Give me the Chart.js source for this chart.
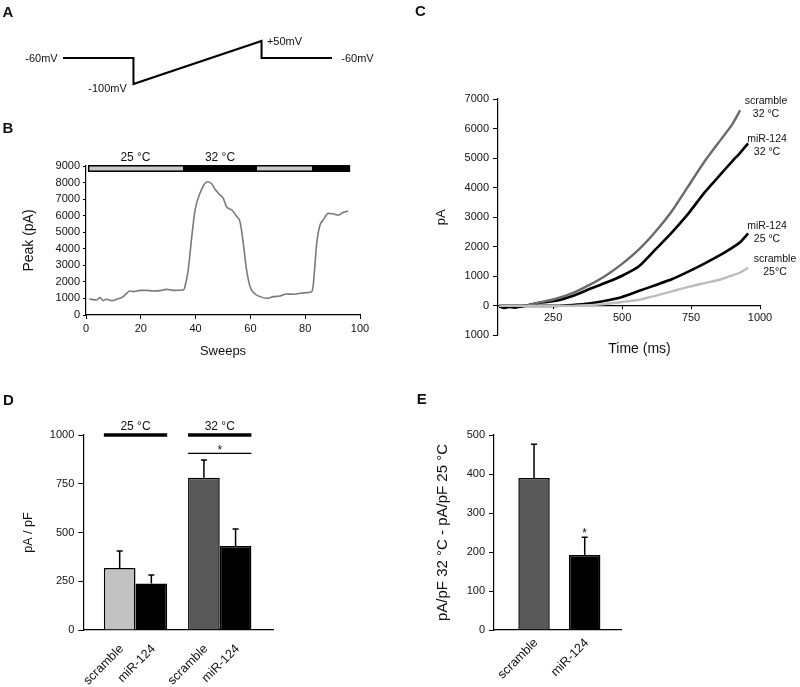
<!DOCTYPE html>
<html><head><meta charset="utf-8"><title>Figure</title>
<script src="https://cdn.jsdelivr.net/npm/chart.js@4/dist/chart.umd.min.js"></script>
<style>
html,body{margin:0;padding:0;background:#fff;}
body{position:relative;width:800px;height:687px;overflow:hidden;font-family:Arial,"Liberation Sans",Helvetica,sans-serif;color:#111;}
canvas{position:absolute;}
.t{position:absolute;white-space:nowrap;line-height:1;transform:translate(-50%,-50%);text-align:center;color:#111;}
</style></head><body>
<canvas id="cA" width="400" height="110" style="left:0px;top:0px"></canvas>
<canvas id="cB" width="400" height="223" style="left:0px;top:140px"></canvas>
<canvas id="cC" width="370" height="266" style="left:430px;top:80px"></canvas>
<canvas id="cD" width="400" height="287" style="left:0px;top:400px"></canvas>
<canvas id="cE" width="400" height="287" style="left:400px;top:400px"></canvas>
<script>
// ================= DATA =================
// A: voltage-ramp protocol
const protoTimeMs = [0, 550, 550, 1550, 1550, 2100];
const protoMv     = [-60, -60, -100, 50, -60, -60];

// B: peak current per sweep
const sweepNo = [1.2, 3.9, 5.1, 6.3, 7.5, 9.4, 11.2, 13.6, 14.8, 16, 17.3, 19.7, 22.1, 24.6, 27, 29.4, 31.9, 35.5,
  36.1, 37.3, 38.6, 39.8, 41.6, 43.4, 44.6, 45.9, 47.1, 48.9, 50.1, 51.3, 53.2, 54.9, 56.2, 57.4, 58.6, 59.9,
  61.7, 63.5, 65.9, 68.4, 70.8, 73.2, 75.7, 78.1, 80.5, 82.4, 83, 84.2, 85.4, 86.6, 88.4, 90.3, 92.1, 93.9, 95.7];
const peakPa = [970, 910, 1050, 870, 950, 870, 950, 1110, 1310, 1450, 1410, 1490, 1490, 1450, 1470, 1550, 1490, 1510,
  1710, 2720, 4730, 6340, 7350, 7950, 8050, 7910, 7590, 7250, 7050, 6540, 6340, 5980, 5640, 4330, 2720, 1710,
  1270, 1110, 1010, 1110, 1150, 1270, 1250, 1310, 1350, 1410, 1910, 4330, 5430, 5740, 6140, 6100, 6040, 6200, 6280];
const tempSegStart = [0.7, 35.4, 62.4, 82.5];
const tempSegEnd   = [35.4, 62.4, 82.5, 96.4];
const tempSegC     = [25, 32, 25, 32];
const bXTicks = [0, 20, 40, 60, 80, 100];
const bYTicks = [0, 1000, 2000, 3000, 4000, 5000, 6000, 7000, 8000, 9000];

// C: ramp currents
const rampTimeMs = [55, 70, 90, 110, 130, 150, 190, 260, 320, 380, 440, 500, 560, 620, 680, 740, 800, 860, 900, 928, 957];
const scr32Pa = [0, 0, 0, 0, 0, 0, 90, 240, 430, 700, 1020, 1420, 1900, 2500, 3200, 4050, 4900, 5650, 6150, 6620, null];
const mir32Pa = [-20, -70, -40, -60, -30, 0, 90, 170, 330, 560, 780, 1020, 1330, 1900, 2480, 3120, 3850, 4480, 4900, 5180, 5500];
const mir25Pa = [0, 0, 0, 0, 0, 0, 0, 0, 30, 80, 170, 300, 500, 700, 900, 1160, 1440, 1740, 1970, 2150, 2450];
const scr25Pa = [0, 0, 0, 0, 0, 0, 0, 0, 0, 20, 60, 130, 200, 340, 490, 640, 770, 900, 1030, 1130, 1290];
const cXTicks = [250, 500, 750, 1000];
const cYTicks = [-1000, 0, 1000, 2000, 3000, 4000, 5000, 6000, 7000];

// D: current density
const dGroups = ['25 °C', '32 °C'];
const dScramble = [318, 781];
const dScrambleSem = [87, 91];
const dMir = [239, 431];
const dMirSem = [43, 87];
const dSignificant = [false, true];
const dYTicks = [0, 250, 500, 750, 1000];

// E: temperature-induced increase
const eLabels = ['scramble', 'miR-124'];
const eDelta = [390, 192];
const eSem = [86, 46];
const eSignificant = [false, true];
const eYTicks = [0, 100, 200, 300, 400, 500];

// ================= HELPERS =================
const FONT = 'Arial, "Liberation Sans", Helvetica, sans-serif';
Chart.defaults.font.family = FONT;
Chart.defaults.color = '#111';

function txt(html, x, y, size, opts = {}) {
  const d = document.createElement('div');
  d.className = 't';
  d.innerHTML = html;
  d.style.left = x + 'px';
  d.style.top = y + 'px';
  d.style.fontSize = size + 'px';
  if (opts.bold) d.style.fontWeight = 'bold';
  if (opts.lh) d.style.lineHeight = opts.lh + 'px';
  document.body.appendChild(d);
}
const tickList = arr => s => { s.ticks = arr.map(v => ({ value: v })); };
const plainNum = v => String(v);
function yAxis(min, max, ticks, width, tickLen, pad, title, titleSize, cb) {
  return {
    type: 'linear', position: 'left', min, max,
    afterBuildTicks: tickList(ticks),
    afterFit: s => { s.width = width; },
    border: { display: true, color: '#000', width: 1.2 },
    grid: { display: true, drawOnChartArea: false, drawTicks: true, tickLength: tickLen, color: '#000', lineWidth: 1 },
    ticks: { font: { size: 11 }, color: '#111', padding: pad, callback: cb || plainNum },
    title: { display: !!title, text: title, font: { size: titleSize }, color: '#111' }
  };
}
const baseOpts = {
  responsive: false, animation: false, devicePixelRatio: 1,
  plugins: { legend: { display: false }, tooltip: { enabled: false } }
};

// ================= PANEL A =================
// schematic drawing compresses the depolarised part of the ramp, as in the figure
const schematicLevel = mv => (mv >= -60 ? -60 + (mv + 60) * 0.238 : mv);
new Chart(document.getElementById('cA'), {
  type: 'line',
  data: { datasets: [{ data: protoTimeMs.map((t, i) => ({ x: t, y: schematicLevel(protoMv[i]) })),
    borderColor: '#000', borderWidth: 2, pointRadius: 0, tension: 0, clip: false }] },
  options: Object.assign({}, baseOpts, {
    layout: { padding: { left: 63, right: 68, top: 32, bottom: 19.5 } },
    scales: {
      x: { type: 'linear', display: false, min: 0, max: 2100 },
      y: { type: 'linear', display: false, min: -110, max: -20 }
    }
  })
});
txt('-60mV', 41.5, 57.5, 11);
txt('-100mV', 107.5, 88, 11);
txt('+50mV', 284.5, 41, 11);
txt('-60mV', 357.5, 58, 11);

// ================= PANEL B =================
const tempBarTop = 9060, tempBarBottom = 8640;
const tempBar = {
  id: 'tempBar',
  afterDraw(chart) {
    const { ctx } = chart; const x = chart.scales.x, y = chart.scales.y;
    const yT = y.getPixelForValue(tempBarTop), yB = y.getPixelForValue(tempBarBottom);
    const x0 = x.getPixelForValue(tempSegStart[0]);
    const x1 = x.getPixelForValue(tempSegEnd[tempSegEnd.length - 1]);
    ctx.save();
    ctx.fillStyle = '#000';
    ctx.fillRect(x0, yT, x1 - x0, yB - yT);
    tempSegC.forEach((t, i) => {
      if (t !== 25) return;
      const a = x.getPixelForValue(tempSegStart[i]) + (i === 0 ? 1.5 : 0);
      const b = x.getPixelForValue(tempSegEnd[i]);
      ctx.fillStyle = '#c8c8c8';
      ctx.fillRect(a, yT + 1.5, b - a, yB - yT - 3);
    });
    ctx.fillStyle = '#111'; ctx.font = '12px ' + FONT; ctx.textAlign = 'center'; ctx.textBaseline = 'middle';
    [0, 1].forEach(i => {
      const mid = (x.getPixelForValue(tempSegStart[i]) + x.getPixelForValue(tempSegEnd[i])) / 2;
      ctx.fillText(tempSegC[i] + ' °C', mid, yT - 7);
    });
    ctx.restore();
  }
};
new Chart(document.getElementById('cB'), {
  type: 'line',
  data: { datasets: [{ data: sweepNo.map((s, i) => ({ x: s, y: peakPa[i] })),
    borderColor: '#7a7a7a', borderWidth: 1.6, pointRadius: 0, cubicInterpolationMode: 'monotone' }] },
  options: Object.assign({}, baseOpts, {
    layout: { padding: { left: 16.6, right: 40, top: 26, bottom: 0 } },
    scales: {
      x: {
        type: 'linear', position: 'bottom', min: 0, max: 100,
        afterBuildTicks: tickList(bXTicks),
        afterFit: s => { s.height = 48; },
        border: { display: true, color: '#000', width: 1.2 },
        grid: { display: true, drawOnChartArea: false, drawTicks: true, tickLength: 4, color: '#000' },
        ticks: { font: { size: 11 }, color: '#111', padding: 3, maxRotation: 0, callback: plainNum },
        title: { display: true, text: 'Sweeps', font: { size: 13 }, color: '#111' }
      },
      y: yAxis(0, 9000, bYTicks, 69.4, 3, 3, 'Peak (pA)', 14)
    }
  }),
  plugins: [tempBar]
});

// ================= PANEL C =================
const cSeries = [
  { vals: scr25Pa, color: '#bdbdbd', w: 2.4 },
  { vals: scr32Pa, color: '#6a6a6a', w: 2.4 },
  { vals: mir25Pa, color: '#000000', w: 2.6 },
  { vals: mir32Pa, color: '#000000', w: 2.6 }
];
new Chart(document.getElementById('cC'), {
  type: 'line',
  data: { datasets: cSeries.map(s => ({
    data: rampTimeMs.map((t, i) => ({ x: t, y: s.vals[i] })),
    borderColor: s.color, borderWidth: s.w, pointRadius: 0, tension: 0.2, spanGaps: false })) },
  options: Object.assign({}, baseOpts, {
    layout: { padding: { left: 0, right: 40, top: 19, bottom: 9 } },
    scales: {
      x: {
        type: 'linear', position: { y: 0 }, min: 50, max: 1000,
        afterBuildTicks: tickList(cXTicks),
        border: { display: true, color: '#000', width: 1.2 },
        grid: { display: true, drawOnChartArea: false, drawTicks: true, tickLength: 3, color: '#000' },
        ticks: { font: { size: 11 }, color: '#111', padding: 3, maxRotation: 0, callback: plainNum }
      },
      // tick labels show magnitude only, as in the figure
      y: yAxis(-1000, 7000, cYTicks, 68, 5, 4, 'pA', 13, v => String(Math.abs(v)))
    }
  })
});
txt('scramble<br>32 °C', 766, 106, 10.5, { lh: 12.5 });
txt('miR-124<br>32 °C', 767, 144, 10.5, { lh: 12.5 });
txt('miR-124<br>25 °C', 767, 231, 10.5, { lh: 12.5 });
txt('scramble<br>25°C', 775, 264, 10.5, { lh: 12.5 });
txt('Time (ms)', 639.5, 347.5, 14);

// ================= shared bar plugins =================
const errorBars = {
  id: 'errorBars',
  afterDatasetsDraw(chart) {
    const { ctx } = chart; const y = chart.scales.y;
    chart.data.datasets.forEach((ds, di) => {
      if (!ds.sem) return;
      chart.getDatasetMeta(di).data.forEach((bar, i) => {
        const top = y.getPixelForValue(ds.data[i].y + ds.sem[i]);
        ctx.save(); ctx.strokeStyle = '#000'; ctx.lineWidth = 1.5;
        ctx.beginPath();
        ctx.moveTo(bar.x, bar.y); ctx.lineTo(bar.x, top);
        ctx.moveTo(bar.x - 3, top); ctx.lineTo(bar.x + 3, top);
        ctx.stroke();
        if (ds.star && ds.star[i]) {
          ctx.fillStyle = '#111'; ctx.font = '12px ' + FONT; ctx.textAlign = 'center'; ctx.textBaseline = 'alphabetic';
          ctx.fillText('*', bar.x, top);
        }
        ctx.restore();
      });
    });
  }
};
function makeBarLabels(dy) {
  return {
    id: 'barLabels',
    afterDraw(chart) {
      const { ctx } = chart; const base = chart.chartArea.bottom;
      ctx.save();
      ctx.font = '12.5px ' + FONT; ctx.fillStyle = '#111'; ctx.textAlign = 'right'; ctx.textBaseline = 'middle';
      chart.data.datasets.forEach((ds, di) => {
        chart.getDatasetMeta(di).data.forEach((bar, i) => {
          ctx.save(); ctx.translate(bar.x + 2, base + dy); ctx.rotate(-Math.PI / 4);
          ctx.fillText(ds.barLabels[i], 0, 0); ctx.restore();
        });
      });
      ctx.restore();
    }
  };
}
function xBarAxis(min, max, ticks) {
  return {
    type: 'linear', position: 'bottom', min, max, offset: false,
    afterBuildTicks: tickList(ticks),
    afterFit: s => { s.height = 57; },
    border: { display: true, color: '#000', width: 1.2 },
    grid: { display: false, offset: false },
    ticks: { display: false }
  };
}

// ================= PANEL D =================
const dBracketLevel = 1000, dSigLevel = 906;
const dBrackets = {
  id: 'dBrackets',
  afterDraw(chart) {
    const { ctx } = chart; const y = chart.scales.y;
    const m0 = chart.getDatasetMeta(0), m1 = chart.getDatasetMeta(1);
    ctx.save();
    dGroups.forEach((g, i) => {
      const b0 = m0.data[i], b1 = m1.data[i];
      const left = b0.x - b0.width / 2, right = b1.x + b1.width / 2, mid = (left + right) / 2;
      const yTop = y.getPixelForValue(dBracketLevel);
      ctx.strokeStyle = '#000'; ctx.lineWidth = 3.3;
      ctx.beginPath(); ctx.moveTo(left, yTop); ctx.lineTo(right, yTop); ctx.stroke();
      ctx.fillStyle = '#111'; ctx.font = '12px ' + FONT; ctx.textAlign = 'center'; ctx.textBaseline = 'middle';
      ctx.fillText(g, mid, yTop - 8);
      if (dSignificant[i]) {
        const ys = y.getPixelForValue(dSigLevel);
        ctx.lineWidth = 1.2;
        ctx.beginPath(); ctx.moveTo(left, ys); ctx.lineTo(right, ys); ctx.stroke();
        ctx.textBaseline = 'alphabetic';
        ctx.fillText('*', mid, ys + 1);
      }
    });
    ctx.restore();
  }
};
new Chart(document.getElementById('cD'), {
  type: 'bar',
  data: { datasets: [
    { data: dScramble.map((v, i) => ({ x: i + 1, y: v })), sem: dScrambleSem, barLabels: ['scramble', 'scramble'],
      backgroundColor: ['#c2c2c2', '#585858'], borderColor: '#000', borderWidth: 1.5,
      barPercentage: 1, categoryPercentage: 0.752 },
    { data: dMir.map((v, i) => ({ x: i + 1, y: v })), sem: dMirSem, barLabels: ['miR-124', 'miR-124'],
      backgroundColor: '#000', borderColor: '#000', borderWidth: 1.5,
      barPercentage: 1, categoryPercentage: 0.752 }
  ] },
  options: Object.assign({}, baseOpts, {
    layout: { padding: { left: 16.8, right: 126.7, top: 35, bottom: 0 } },
    scales: {
      x: xBarAxis(0.38, 2.636, [1, 2]),
      y: yAxis(0, 1000, dYTicks, 66.5, 5, 4, 'pA / pF', 12.5)
    }
  }),
  plugins: [errorBars, makeBarLabels(17), dBrackets]
});

// ================= PANEL E =================
new Chart(document.getElementById('cE'), {
  type: 'bar',
  data: { datasets: [
    { data: eDelta.map((v, i) => ({ x: i + 1, y: v })), sem: eSem, star: eSignificant, barLabels: eLabels,
      backgroundColor: ['#585858', '#000'], borderColor: '#000', borderWidth: 1.5,
      barPercentage: 1, categoryPercentage: 0.62 }
  ] },
  options: Object.assign({}, baseOpts, {
    layout: { padding: { left: 30.3, right: 178.3, top: 35, bottom: 0 } },
    scales: {
      x: xBarAxis(0.21, 2.73, [1, 2]),
      y: yAxis(0, 500, eYTicks, 63.7, 5, 4, 'pA/pF 32 °C - pA/pF 25 °C', 15)
    }
  }),
  plugins: [errorBars, makeBarLabels(11)]
});

// ================= panel letters =================
txt('A', 8, 11, 15, { bold: true });
txt('B', 8, 127, 15, { bold: true });
txt('C', 420.5, 9.5, 15, { bold: true });
txt('D', 8.3, 398.7, 15, { bold: true });
txt('E', 421.7, 398.3, 15, { bold: true });
</script>
</body></html>
